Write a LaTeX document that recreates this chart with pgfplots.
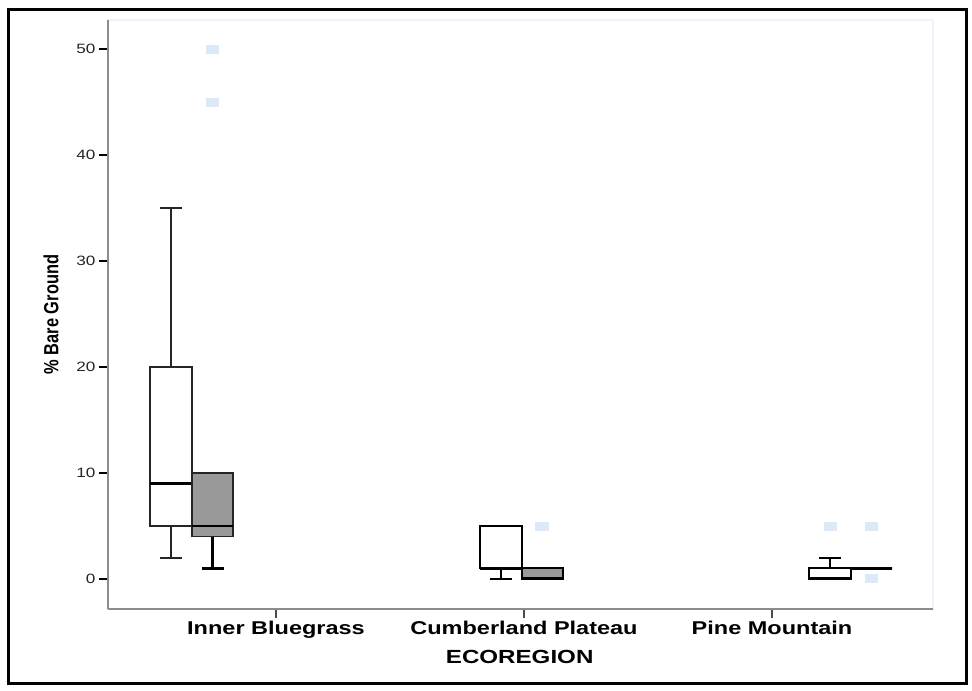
\documentclass[border=0pt]{standalone}
\usepackage{fontspec}
\usepackage{pgfplots}
\pgfplotsset{compat=1.18}
\usepgfplotslibrary{statistics}
\setmainfont{Liberation Sans}
\newfontfamily\wf[FakeStretch=1.27]{Liberation Sans}
\newfontfamily\nf[FakeStretch=0.8]{Liberation Sans}
\definecolor{outl}{RGB}{220,233,249}
\definecolor{boxgray}{RGB}{153,153,153}
\definecolor{axgray}{RGB}{140,140,140}
\definecolor{frameblue}{RGB}{236,243,252}
\begin{document}
\begin{tikzpicture}[x=1bp,y=1bp]
\fill[white] (0,0) rectangle (972,691);
\draw[line width=3bp] (8,7) rectangle (966,681);
\begin{axis}[
  at={(108bp,82bp)}, anchor=south west,
  scale only axis, width=825bp, height=589bp,
  xmin=108, xmax=933, ymin=-2.83, ymax=52.74,
  axis x line=bottom, axis y line=left,
  axis line style={-, draw=axgray, line width=2.5bp},
  axis background/.style={draw=frameblue, line width=1.5bp, fill=white},
  tick align=outside,
  major tick length=9bp,
  xtick={276,524,772},
  xticklabels={Inner Bluegrass,Cumberland Plateau,Pine Mountain},
  ytick={0,10,20,30,40,50},
  yticklabels={0,10,20,30,40,50},
  x tick style={draw=black!70, line width=1.2bp},
  y tick style={draw=black, line width=1.2bp},
  xticklabel style={font=\wf\bfseries\fontsize{18.5bp}{22bp}\selectfont, text=black},
  yticklabel style={font=\wf\fontsize{13.5bp}{16bp}\selectfont, text=black!85},
  xlabel={ECOREGION},
  xlabel style={font=\wf\bfseries\fontsize{19bp}{22bp}\selectfont, at={(axis description cs:0.499,-0.0815)}, anchor=center},
  ylabel={\% Bare Ground},
  ylabel style={font=\nf\bfseries\fontsize{20.5bp}{24bp}\selectfont, at={(axis description cs:-0.069,0.5)}, anchor=center},
  clip=false,
  boxplot/draw direction=y,
]
% Inner Bluegrass, white
\addplot[draw=black!85, fill=white, line width=1.5bp,
  boxplot prepared={draw position=171, box extend=42, whisker extend=22,
    lower whisker=2, lower quartile=5, median=9, upper quartile=20, upper whisker=35,
    every median/.style={line width=3.2bp, draw=black}}] coordinates {};
% Inner Bluegrass, gray
\addplot[draw=black!85, fill=boxgray, line width=1.5bp,
  boxplot prepared={draw position=212.5, box extend=41, whisker extend=22,
    lower whisker=1, lower quartile=4, median=5, upper quartile=10, upper whisker=10,
    every median/.style={line width=2.5bp, draw=black},
    every whisker/.style={line width=3bp, draw=black}}] coordinates {};
% Cumberland Plateau, white
\addplot[draw=black, fill=white, line width=1.8bp,
  boxplot prepared={draw position=501, box extend=42, whisker extend=22,
    lower whisker=0, lower quartile=1, median=1, upper quartile=5, upper whisker=5,
    every median/.style={line width=3bp, draw=black}}] coordinates {};
% Cumberland Plateau, gray
\addplot[draw=black, fill=boxgray, line width=1.8bp,
  boxplot prepared={draw position=542.5, box extend=41, whisker extend=22,
    lower whisker=0, lower quartile=0, median=0, upper quartile=1, upper whisker=1,
    every median/.style={line width=3bp, draw=black}}] coordinates {};
% Pine Mountain, white
\addplot[draw=black, fill=white, line width=1.8bp,
  boxplot prepared={draw position=830, box extend=42, whisker extend=22,
    lower whisker=0, lower quartile=0, median=0, upper quartile=1, upper whisker=2,
    every median/.style={line width=3bp, draw=black}}] coordinates {};
% Pine Mountain, gray
\addplot[draw=black, fill=boxgray, line width=1.8bp,
  boxplot prepared={draw position=871.5, box extend=41, whisker extend=22,
    lower whisker=1, lower quartile=1, median=1, upper quartile=1, upper whisker=1,
    every median/.style={line width=3bp, draw=black}}] coordinates {};
% outliers
\addplot[only marks, color=outl, mark=square*, mark size=4bp,
  mark options={xscale=1.6, fill=outl, draw=outl, line width=0pt}]
  coordinates {(212.5,45) (212.5,50) (542,5) (830.5,5) (871.5,5) (871.5,0)};
\end{axis}
\end{tikzpicture}
\end{document}
